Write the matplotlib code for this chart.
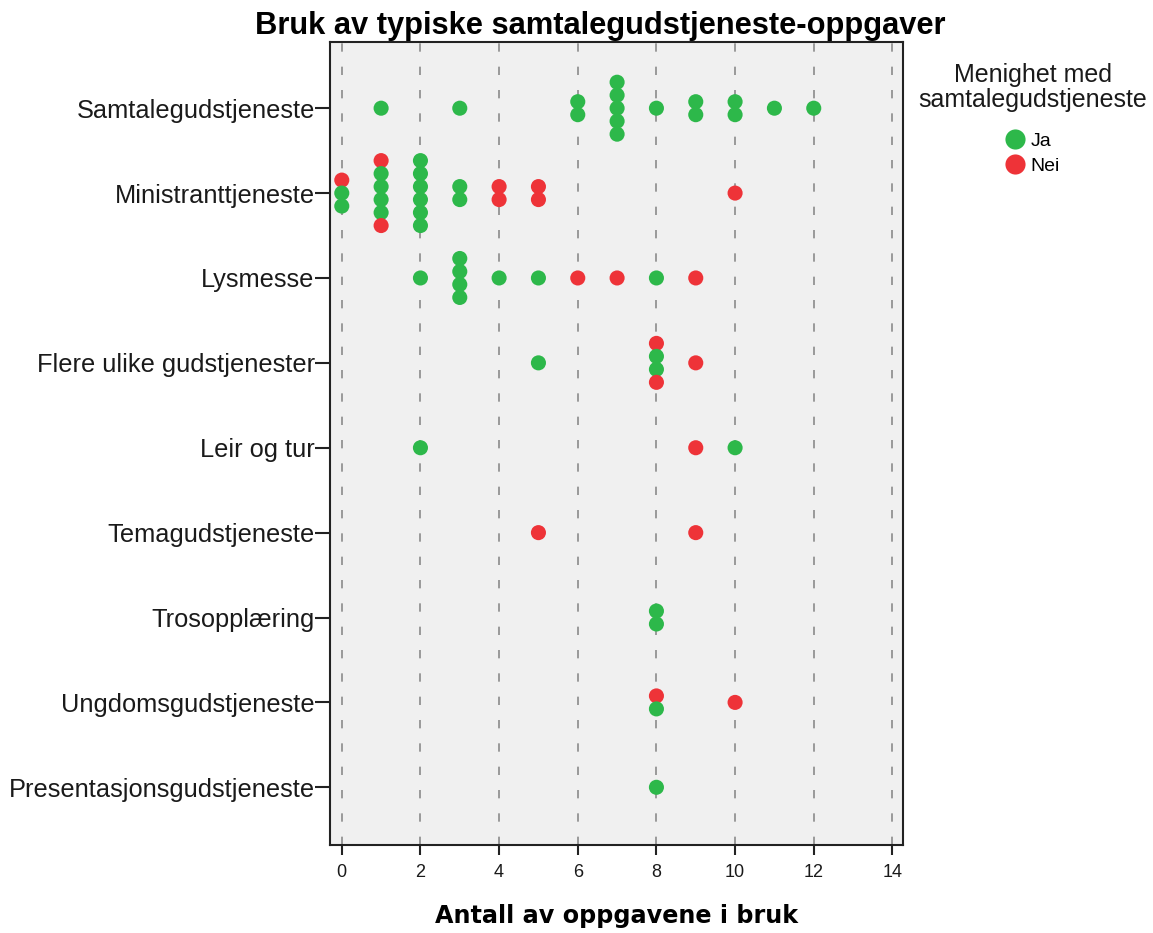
import matplotlib
matplotlib.use('Agg')
import matplotlib.pyplot as plt
from matplotlib.lines import Line2D

# categories, top to bottom
categories = ['Samtalegudstjeneste', 'Ministranttjeneste', 'Lysmesse',
              'Flere ulike gudstjenester', 'Leir og tur', 'Temagudstjeneste',
              'Trosopplæring', 'Ungdomsgudstjeneste', 'Presentasjonsgudstjeneste']

# each stack: (number of tasks in use, groups top to bottom)  J = Ja, N = Nei
samtale = [(1, 'J'), (3, 'J'), (6, 'JJ'), (7, 'JJJJJ'), (8, 'J'), (9, 'JJ'),
           (10, 'JJ'), (11, 'J'), (12, 'J')]
ministrant = [(0, 'NJJ'), (1, 'NJJJJN'), (2, 'JJJJJJ'), (3, 'JJ'), (4, 'NN'),
              (5, 'NN'), (10, 'N')]
lysmesse = [(2, 'J'), (3, 'JJJJ'), (4, 'J'), (5, 'J'), (6, 'N'), (7, 'N'),
            (8, 'J'), (9, 'N')]
flere = [(5, 'J'), (8, 'NJJN'), (9, 'N')]
leir = [(2, 'J'), (9, 'N'), (10, 'J')]
tema = [(5, 'N'), (9, 'N')]
tros = [(8, 'JJ')]
ungdom = [(8, 'NJ'), (10, 'N')]
presentasjon = [(8, 'J')]

rows = [samtale, ministrant, lysmesse, flere, leir, tema, tros, ungdom, presentasjon]

legend_title = 'Menighet med\nsamtalegudstjeneste'
group_labels = {'J': 'Ja', 'N': 'Nei'}
colors = {'J': '#2DB84A', 'N': '#EE3338'}

plt.rcParams['font.family'] = ['Liberation Sans', 'DejaVu Sans']

fig = plt.figure(figsize=(11.53, 9.33), dpi=100)
ax = fig.add_axes([0.2862, 0.0943, 0.4970, 0.8607])
ax.set_facecolor('#F0F0F0')

step = 0.153  # vertical spacing of stacked dots, in category units
for i, row in enumerate(rows):
    for x, groups in row:
        n = len(groups)
        for k, g in enumerate(groups):
            y = i - (n - 1) / 2 * step + k * step
            ax.scatter(x, y, s=118, color=colors[g], edgecolors='none', zorder=3)

ax.set_xlim(-0.3, 14.27)
ax.set_ylim(len(categories) - 1 + 0.68, -0.78)
ax.set_yticks(range(len(categories)))
ax.set_yticklabels(categories, fontsize=18.3, color='#1a1a1a')
ax.set_xticks(range(0, 15, 2))
ax.set_xticklabels([str(v) for v in range(0, 15, 2)], fontsize=13, color='#1a1a1a')
ax.tick_params(axis='both', direction='out', width=1.5, color='#222222')
ax.tick_params(axis='y', pad=0, length=11)
ax.tick_params(axis='x', pad=7, length=7)
ax.grid(axis='x', linestyle=(0, (5, 9)), color='#8a8a8a', linewidth=1.2, zorder=1)
ax.set_axisbelow(True)
for sp in ax.spines.values():
    sp.set_linewidth(1.5)
    sp.set_color('#222222')

fig.suptitle('Bruk av typiske samtalegudstjeneste-oppgaver', x=0.521, y=0.988,
             fontsize=22.2, fontweight='bold', va='top')
ax.set_xlabel('Antall av oppgavene i bruk', fontsize=17.2, fontweight='bold',
              family='DejaVu Sans', labelpad=16)

fig.text(0.896, 0.932, legend_title, ha='center', va='top', fontsize=18,
         linespacing=1.05, color='#1a1a1a')
handles = [Line2D([], [], linestyle='none', marker='o', markersize=14.5,
                  markerfacecolor=colors[g], markeredgecolor='none', label=group_labels[g])
           for g in ['J', 'N']]
leg = fig.legend(handles=handles, loc='upper left',
                 bbox_to_anchor=(0.872, 0.858), frameon=False, fontsize=14,
                 handletextpad=0.3, labelspacing=0.35, handlelength=1.0,
                 borderpad=0, borderaxespad=0)

fig.savefig('out.png', dpi=100)
